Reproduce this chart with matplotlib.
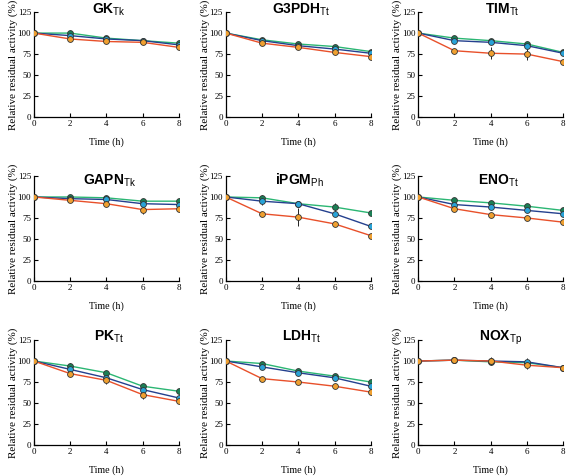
import matplotlib.pyplot as plt
import numpy as np

# Данные: время и остаточная активность (%) для трёх условий
time = [0, 2, 4, 6, 8]

enzymes = ['GK', 'G3PDH', 'TIM', 'GAPN', 'iPGM', 'ENO', 'PK', 'LDH', 'NOX']
subs = ['Tk', 'Tt', 'Tt', 'Tk', 'Ph', 'Tt', 'Tt', 'Tt', 'Tp']

green = [
    [100, 100, 94, 91, 88],
    [100, 92, 87, 84, 78],
    [100, 94, 91, 87, 77],
    [100, 100, 99, 95, 95],
    [100, 99, 92, 88, 81],
    [100, 96, 93, 89, 84],
    [100, 94, 86, 70, 64],
    [100, 97, 88, 82, 75],
    [100, 101, 99, 98, 92],
]
blue = [
    [100, 97, 93, 91, 86],
    [100, 91, 85, 81, 76],
    [100, 91, 89, 85, 76],
    [100, 98, 97, 92, 91],
    [100, 95, 92, 80, 65],
    [100, 91, 88, 84, 80],
    [100, 90, 80, 66, 56],
    [100, 93, 86, 80, 70],
    [100, 101, 100, 99, 92],
]
orange = [
    [100, 93, 90, 89, 83],
    [100, 88, 83, 77, 72],
    [100, 79, 76, 75, 66],
    [100, 96, 92, 85, 86],
    [100, 80, 76, 68, 54],
    [100, 86, 79, 75, 70],
    [100, 85, 77, 60, 52],
    [100, 79, 75, 70, 63],
    [100, 101, 100, 95, 92],
]
green_err = [
    [0, 2, 2, 2, 2], [0, 2, 2, 2, 2], [0, 2, 2, 2, 2],
    [0, 2, 2, 3, 4], [0, 3, 2, 5, 2], [0, 2, 2, 2, 2],
    [0, 4, 2, 3, 2], [0, 2, 2, 2, 2], [0, 2, 3, 3, 2],
]
blue_err = [
    [0, 2, 2, 2, 2], [0, 2, 2, 2, 2], [0, 2, 2, 2, 2],
    [0, 2, 2, 3, 3], [0, 5, 3, 3, 10], [0, 2, 2, 2, 2],
    [0, 3, 3, 3, 3], [0, 2, 2, 2, 2], [0, 2, 3, 4, 2],
]
orange_err = [
    [0, 2, 2, 2, 2], [0, 2, 2, 2, 2], [0, 2, 7, 7, 6],
    [0, 2, 2, 5, 7], [0, 2, 11, 2, 8], [0, 2, 2, 2, 2],
    [0, 3, 4, 5, 3], [0, 2, 2, 2, 2], [0, 2, 5, 5, 2],
]

series = [
    (green, green_err, '#2bb673', '#1b7f55'),
    (blue, blue_err, '#24408e', '#29a3d8'),
    (orange, orange_err, '#e8502a', '#f0a030'),
]

plt.rcParams['font.family'] = 'Liberation Serif'
plt.rcParams['mathtext.fontset'] = 'custom'
plt.rcParams['mathtext.bf'] = 'Liberation Sans:bold'
plt.rcParams['mathtext.rm'] = 'Liberation Sans'

fig = plt.figure(figsize=(5.66, 4.76), dpi=100)

lefts = [0.060, 0.399, 0.739]
bottoms = [0.754, 0.4097, 0.0651]
w, h = 0.256, 0.2206
title_x = [0.52, 0.52, 0.58, 0.52, 0.51, 0.55, 0.52, 0.52, 0.57]
title_y = [0.99, 0.92, 0.99]

for i in range(9):
    r, c = divmod(i, 3)
    ax = fig.add_axes([lefts[c], bottoms[r], w, h])
    for vals, errs, lc, mc in series:
        ax.errorbar(time, vals[i], yerr=errs[i], color=lc, lw=1.0,
                    marker='o', ms=4.2, mfc=mc, mec='#333333', mew=0.6,
                    ecolor='#222222', elinewidth=0.7, capsize=0, zorder=3)
    ax.set_xlim(0, 8)
    ax.set_ylim(0, 125)
    ax.set_xticks([0, 2, 4, 6, 8])
    ax.set_yticks([0, 25, 50, 75, 100, 125])
    ax.tick_params(direction='in', length=3, width=0.8, labelsize=6.5, pad=2)
    for s in ['top', 'right']:
        ax.spines[s].set_visible(False)
    for s in ['left', 'bottom']:
        ax.spines[s].set_linewidth(0.9)
    ax.set_xlabel('Time (h)', fontsize=7.2, labelpad=7)
    ax.set_ylabel('Relative residual activity (%)', fontsize=8, labelpad=0)
    ax.text(title_x[i], title_y[r], r'$\mathbf{' + enzymes[i] + r'}_{\mathrm{' + subs[i] + '}}$',
            transform=ax.transAxes, ha='center', va='baseline', fontsize=10)

fig.savefig('out.png', dpi=100)
